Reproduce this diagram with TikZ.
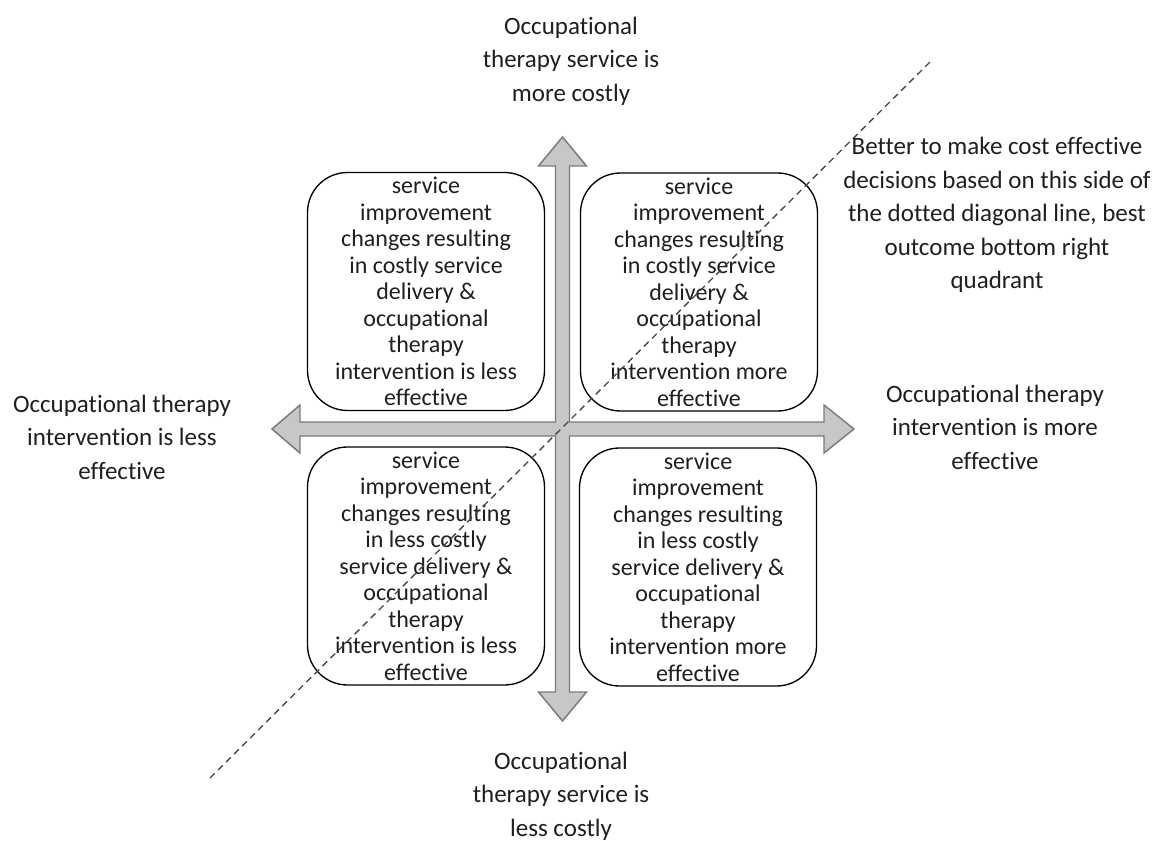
\documentclass[tikz,border=0pt]{standalone}
\usepackage{fontspec}
\setmainfont{Carlito}[Ligatures=NoCommon]
\begin{document}
\begin{tikzpicture}[x=0.75pt,y=-0.75pt,
  quadbox/.style={draw=black, line width=1pt, fill=white, rounded corners=30pt,
    minimum width=177.75pt, minimum height=178.5pt, inner sep=0pt, align=center,
    text=black!88, font=\fontsize{18}{19.9}\selectfont},
  axislabel/.style={align=center, inner sep=0pt, text=black!88,
    font=\fontsize{18.75}{25.1}\selectfont},
  axisarrow/.style={fill=black!22, draw=black!52, line width=1.1pt, line join=miter},
  diag/.style={draw=black!72, line width=1pt, dash pattern=on 5pt off 3.5pt}]
\useasboundingbox (0,0) rectangle (1158,842);

% four-headed cross of the two axes
\draw[axisarrow] (562.5,137) -- (586.5,166) -- (569.5,166) -- (569.5,422)
  -- (824,422) -- (824,405) -- (854,429) -- (824,453) -- (824,436)
  -- (569.5,436) -- (569.5,692) -- (586.5,692) -- (562.5,721)
  -- (538.5,692) -- (555.5,692) -- (555.5,436) -- (300,436)
  -- (300,453) -- (272,429) -- (300,405) -- (300,422)
  -- (555.5,422) -- (555.5,166) -- (538.5,166) -- cycle;

% quadrants
\node[quadbox] (tl) at (426,291.5) {service\\improvement\\changes resulting\\in costly service\\delivery \&\\occupational\\therapy\\intervention is less\\effective};
\node[quadbox] (tr) at (699,292) {service\\improvement\\changes resulting\\in costly service\\delivery \&\\occupational\\therapy\\intervention more\\effective};
\node[quadbox] (bl) at (426,566) {service\\improvement\\changes resulting\\in less costly\\service delivery \&\\occupational\\therapy\\intervention is less\\effective};
\node[quadbox] (br) at (698,567) {service\\improvement\\changes resulting\\in less costly\\service delivery \&\\occupational\\therapy\\intervention more\\effective};

% cost-effectiveness threshold
\coordinate (dlo) at (210,778);
\coordinate (dhi) at (930,62);
\draw[diag] (dlo) -- (dhi);

% axis labels
\node[axislabel] (costup) at (571,61) {Occupational\\therapy service is\\more costly};
\node[axislabel] (costdown) at (561,796) {Occupational\\therapy service is\\less costly};
\node[axislabel] (effless) at (122,437) {Occupational therapy\\intervention is less\\effective};
\node[axislabel] (effmore) at (995,427) {Occupational therapy\\intervention is more\\effective};
\node[axislabel] (note) at (997,215) {Better to make cost effective\\decisions based on this side of\\the dotted diagonal line, best\\outcome bottom right\\quadrant};
\end{tikzpicture}
\end{document}
